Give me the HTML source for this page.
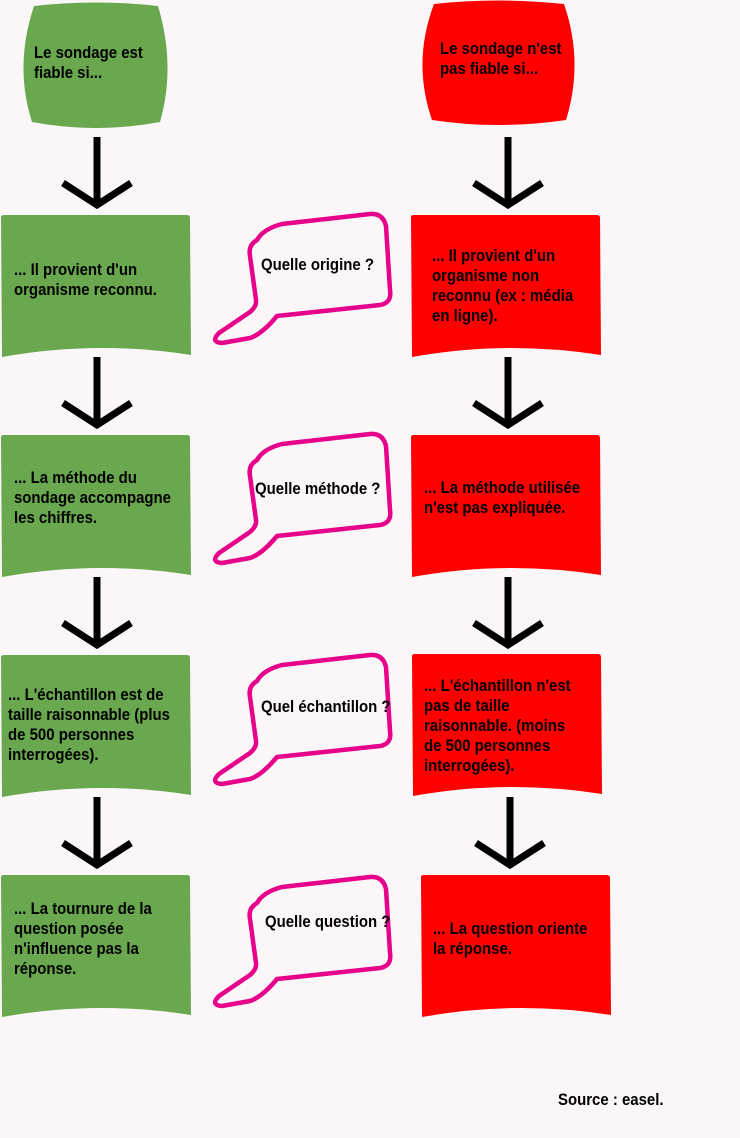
<!DOCTYPE html>
<html><head><meta charset="utf-8"><style>
html,body{margin:0;padding:0;background:#fbf7f8;}
svg{display:block}
text{font-family:"Liberation Sans Narrow","Liberation Sans",sans-serif;font-weight:bold;font-size:17px;fill:#000;transform-box:fill-box;transform-origin:0 50%;transform:scaleX(0.88)}
</style></head><body>
<svg width="740" height="1138" viewBox="0 0 740 1138" xmlns="http://www.w3.org/2000/svg">
<rect width="740" height="1138" fill="#fbf7f8"/>
<defs>
<path id="doc" d="M0,2 Q0,0 3,0 L186,0 Q189,0 189,3 L190,140 Q95,125 1,142 Z"/>
<g id="arr"><line x1="0" y1="0" x2="0" y2="68" stroke="#000" stroke-width="7"/><polyline points="-34,46 0,68 34,46" fill="none" stroke="#000" stroke-width="7"/></g>
<path id="bub" d="M257,240 Q248,245 250,256 L256,300 Q257,306 250,312 L219,333 Q210,342 222,343 L250,338 Q262,334 277,316 L380,305 Q392,303 390,290 L386,226 Q383,213 370,214 L282,224 Q263,229 257,240 Z" fill="none" stroke="#e6008a" stroke-width="4.5" stroke-linejoin="round"/>
</defs>
<path d="M34,6 Q96,-1 158,6 Q176,66 160,122 Q96,134 32,122 Q14,66 34,6 Z" fill="#6aa84f"/>
<path d="M434,4 Q498,-3 564,4 Q584,62 566,120 Q498,130 432,120 Q412,62 434,4 Z" fill="#ff0000"/>
<text x="34" y="58">Le sondage est</text><text x="34" y="78">fiable si...</text>
<text x="440" y="54">Le sondage n'est</text><text x="440" y="74">pas fiable si...</text>
<use href="#arr" x="97" y="137"/><use href="#arr" x="97" y="357"/><use href="#arr" x="97" y="577"/><use href="#arr" x="97" y="797"/>
<use href="#arr" x="508" y="137"/><use href="#arr" x="508" y="357"/><use href="#arr" x="508" y="577"/><use href="#arr" x="510" y="797"/>
<use href="#doc" x="1" y="215" fill="#6aa84f"/>
<use href="#doc" x="1" y="435" fill="#6aa84f"/>
<use href="#doc" x="1" y="655" fill="#6aa84f"/>
<use href="#doc" x="1" y="875" fill="#6aa84f"/>
<use href="#doc" x="411" y="215" fill="#ff0000"/>
<use href="#doc" x="411" y="435" fill="#ff0000"/>
<use href="#doc" x="412" y="654" fill="#ff0000"/>
<use href="#doc" x="421" y="875" fill="#ff0000"/>
<use href="#bub"/><use href="#bub" y="220"/><use href="#bub" y="441"/><use href="#bub" y="663"/>
<text x="261" y="270">Quelle origine ?</text>
<text x="255" y="494">Quelle méthode ?</text>
<text x="261" y="712">Quel échantillon ?</text>
<text x="265" y="927">Quelle question ?</text>
<text x="14" y="275">... Il provient d'un</text><text x="14" y="295">organisme reconnu.</text>
<text x="14" y="483">... La méthode du</text><text x="14" y="503">sondage accompagne</text><text x="14" y="523">les chiffres.</text>
<text x="8" y="700">... L'échantillon est de</text><text x="8" y="720">taille raisonnable (plus</text><text x="8" y="740">de 500 personnes</text><text x="8" y="760">interrogées).</text>
<text x="14" y="914">... La tournure de la</text><text x="14" y="934">question posée</text><text x="14" y="954">n'influence pas la</text><text x="14" y="974">réponse.</text>
<text x="432" y="261">... Il provient d'un</text><text x="432" y="281">organisme non</text><text x="432" y="301">reconnu (ex : média</text><text x="432" y="321">en ligne).</text>
<text x="424" y="493">... La méthode utilisée</text><text x="424" y="513">n'est pas expliquée.</text>
<text x="424" y="691">... L'échantillon n'est</text><text x="424" y="711">pas de taille</text><text x="424" y="731">raisonnable. (moins</text><text x="424" y="751">de 500 personnes</text><text x="424" y="771">interrogées).</text>
<text x="433" y="934">... La question oriente</text><text x="433" y="954">la réponse.</text>
<text x="558" y="1105">Source : easel.</text>
</svg>
</body></html>
